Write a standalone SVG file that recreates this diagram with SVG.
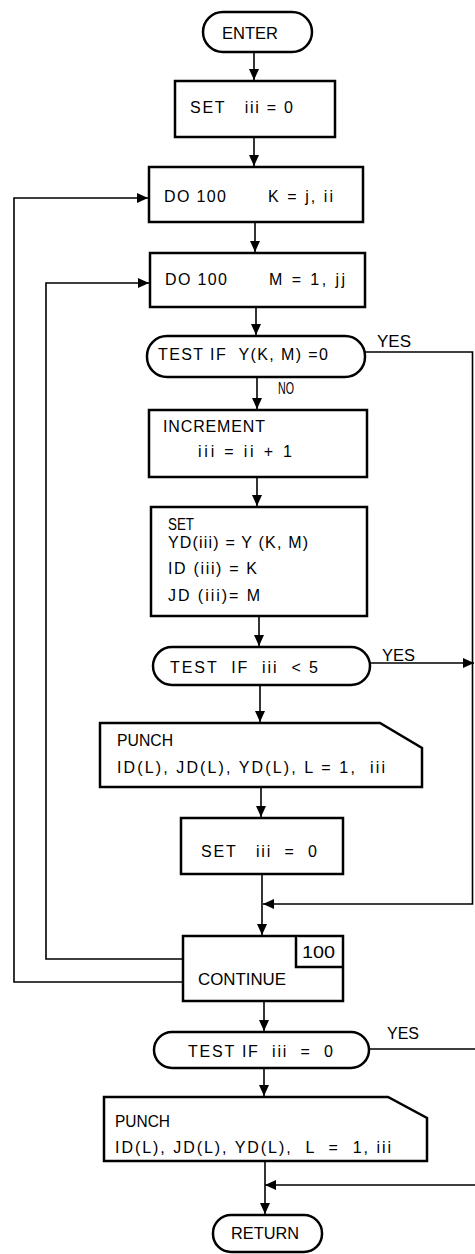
<svg xmlns="http://www.w3.org/2000/svg" width="475" height="1254" viewBox="0 0 475 1254">
<style>
.box{fill:#fff;stroke:#000;stroke-width:2.5}
.ln{fill:none;stroke:#000;stroke-width:1.6}
text{font-family:"Liberation Sans",Arial,sans-serif;font-size:16px;fill:#000}
</style>
<defs>
<marker id="ah" markerUnits="userSpaceOnUse" markerWidth="12" markerHeight="10" refX="11" refY="5" orient="auto">
<path d="M0,0 L11,5 L0,10 Z" fill="#000"/>
</marker>
</defs>
<rect width="475" height="1254" fill="#fff"/>
<g id="connectors">
<path class="ln" d="M254,52 V80" marker-end="url(#ah)"/>
<path class="ln" d="M254,137 V166" marker-end="url(#ah)"/>
<path class="ln" d="M255,222 V252" marker-end="url(#ah)"/>
<path class="ln" d="M256,307 V335" marker-end="url(#ah)"/>
<path class="ln" d="M257,377 V409" marker-end="url(#ah)"/>
<path class="ln" d="M257,477 V506" marker-end="url(#ah)"/>
<path class="ln" d="M259,616 V646" marker-end="url(#ah)"/>
<path class="ln" d="M260,685 V722" marker-end="url(#ah)"/>
<path class="ln" d="M261,787 V817" marker-end="url(#ah)"/>
<path class="ln" d="M262,874 V935" marker-end="url(#ah)"/>
<path class="ln" d="M264,1001 V1031" marker-end="url(#ah)"/>
<path class="ln" d="M264,1068 V1096" marker-end="url(#ah)"/>
<path class="ln" d="M265,1161 V1214" marker-end="url(#ah)"/>
<path class="ln" d="M365,352 H472.5 V904 H263" marker-end="url(#ah)"/>
<path class="ln" d="M370,663 H474" marker-end="url(#ah)"/>
<path class="ln" d="M369,1049 H476 V1185 H265" marker-end="url(#ah)"/>
<path class="ln" d="M183,982 H14 V198 H148" marker-end="url(#ah)"/>
<path class="ln" d="M183,959 H46 V283 H149" marker-end="url(#ah)"/>
<text x="377" y="347" textLength="34" lengthAdjust="spacingAndGlyphs">YES</text>
<text x="278" y="394" textLength="16" lengthAdjust="spacingAndGlyphs">NO</text>
<text x="382" y="661" textLength="33" lengthAdjust="spacingAndGlyphs">YES</text>
<text x="387" y="1039" textLength="32" lengthAdjust="spacingAndGlyphs">YES</text>
</g>
<g id="enter">
<rect class="box" x="203" y="12" width="109" height="40" rx="20"/>
<text x="222" y="39" textLength="56" lengthAdjust="spacingAndGlyphs">ENTER</text>
</g>
<g id="set1">
<rect class="box" x="175" y="81" width="160" height="56"/>
<text x="190" y="113" xml:space="preserve" textLength="103" lengthAdjust="spacing">SET   iii = 0</text>
</g>
<g id="do1">
<rect class="box" x="149" y="167" width="214" height="55"/>
<text x="164" y="202" textLength="62" lengthAdjust="spacing">DO 100</text>
<text x="268" y="202" textLength="65" lengthAdjust="spacing">K = j, ii</text>
</g>
<g id="do2">
<rect class="box" x="150" y="253" width="215" height="54"/>
<text x="165" y="285" textLength="62" lengthAdjust="spacing">DO 100</text>
<text x="269" y="285" textLength="76" lengthAdjust="spacing">M = 1, jj</text>
</g>
<g id="test1">
<rect class="box" x="147" y="336" width="218" height="41" rx="20"/>
<text x="158" y="360" xml:space="preserve" textLength="170" lengthAdjust="spacing">TEST IF  Y(K, M) =0</text>
</g>
<g id="increment">
<rect class="box" x="149" y="410" width="218" height="67"/>
<text x="163" y="432" textLength="102" lengthAdjust="spacing">INCREMENT</text>
<text x="198" y="457" textLength="94" lengthAdjust="spacing">iii = ii + 1</text>
</g>
<g id="set2">
<rect class="box" x="151" y="507" width="216" height="109"/>
<text x="168" y="530" textLength="26" lengthAdjust="spacingAndGlyphs">SET</text>
<text x="168" y="548" textLength="140" lengthAdjust="spacing">YD(iii) = Y (K, M)</text>
<text x="168" y="574" textLength="89" lengthAdjust="spacing">ID (iii) = K</text>
<text x="168" y="601" textLength="92" lengthAdjust="spacing">JD (iii)= M</text>
</g>
<g id="test2">
<rect class="box" x="153" y="647" width="217" height="38" rx="19"/>
<text x="170" y="673" xml:space="preserve" textLength="148" lengthAdjust="spacing">TEST  IF  iii  &lt; 5</text>
</g>
<g id="punch1">
<path class="box" d="M100,723 H380 L422,748 V787 H100 Z"/>
<text x="117" y="746" textLength="56" lengthAdjust="spacingAndGlyphs">PUNCH</text>
<text x="117" y="773" xml:space="preserve" textLength="268" lengthAdjust="spacing">ID(L), JD(L), YD(L), L = 1,  iii</text>
</g>
<g id="set3">
<rect class="box" x="181" y="818" width="162" height="56"/>
<text x="201" y="857" xml:space="preserve" textLength="116" lengthAdjust="spacing">SET   iii  =  0</text>
</g>
<g id="continue">
<rect class="box" x="183" y="936" width="160" height="65"/>
<path class="box" d="M296,936 V967 H343"/>
<text x="302" y="958" textLength="33" lengthAdjust="spacingAndGlyphs">100</text>
<text x="198" y="985" textLength="88" lengthAdjust="spacingAndGlyphs">CONTINUE</text>
</g>
<g id="test3">
<rect class="box" x="154" y="1032" width="215" height="36" rx="18"/>
<text x="188" y="1057" xml:space="preserve" textLength="145" lengthAdjust="spacing">TEST IF  iii  =  0</text>
</g>
<g id="punch2">
<path class="box" d="M104,1097 H388 L427,1118 V1161 H104 Z"/>
<text x="115" y="1127" textLength="55" lengthAdjust="spacingAndGlyphs">PUNCH</text>
<text x="115" y="1153" xml:space="preserve" textLength="276" lengthAdjust="spacing">ID(L), JD(L), YD(L),  L  =  1, iii</text>
</g>
<g id="return">
<rect class="box" x="213" y="1215" width="109" height="37" rx="18"/>
<text x="231" y="1239" textLength="68" lengthAdjust="spacingAndGlyphs">RETURN</text>
</g>
</svg>
